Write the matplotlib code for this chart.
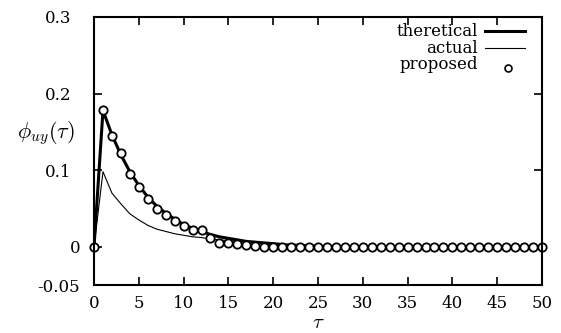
import numpy as np
import matplotlib
matplotlib.use("Agg")
import matplotlib.pyplot as plt
from matplotlib.transforms import ScaledTranslation

# values at integer lags tau = 0..50
tau = np.arange(0, 51)

theoretical = [0.0, 0.178, 0.146, 0.120, 0.098, 0.080, 0.065, 0.053, 0.044, 0.036,
               0.029, 0.024, 0.020, 0.016, 0.013, 0.011, 0.009, 0.007, 0.006, 0.005,
               0.004, 0.003, 0.002, 0.002, 0.001, 0.001] + [0.0] * 25

actual = [0.0, 0.098, 0.070, 0.056, 0.043, 0.035, 0.028, 0.023, 0.020, 0.017,
          0.015, 0.013, 0.012, 0.010, 0.009, 0.008, 0.007, 0.006, 0.005, 0.004,
          0.003, 0.002, 0.002, 0.001, 0.001] + [0.0] * 26

proposed = [0.0, 0.178, 0.144, 0.122, 0.095, 0.078, 0.062, 0.049, 0.041, 0.034,
            0.027, 0.022, 0.022, 0.012, 0.005, 0.005, 0.003, 0.002, 0.001] + [0.0] * 32

xticks = list(range(0, 51, 5))
yticks = [-0.05, 0, 0.1, 0.2, 0.3]
ytick_labels = ["-0.05", "0", "0.1", "0.2", "0.3"]
legend_names = ["theretical", "actual", "proposed"]

plt.rcParams["font.family"] = "DejaVu Serif"
plt.rcParams["mathtext.fontset"] = "cm"

fig = plt.figure(figsize=(5.61, 3.33), dpi=100)
ax = fig.add_axes([0.1676, 0.144, 0.7985, 0.805])

ax.plot(tau, theoretical, color="black", lw=2.2)
ax.plot(tau, actual, color="black", lw=0.8)
ax.plot(tau, proposed, linestyle="none", marker="o", ms=6, mfc="white",
        mec="black", mew=1.3, clip_on=False)

ax.set_xlim(0, 50)
ax.set_ylim(-0.05, 0.3)
ax.set_xticks(xticks)
ax.set_yticks(yticks)
ax.set_yticklabels(ytick_labels)
ax.tick_params(direction="in", top=True, right=True, length=6, width=1.2,
               labelsize=12)
ax.tick_params(axis="x", pad=7)
ax.tick_params(axis="y", pad=10)
for s in ax.spines.values():
    s.set_linewidth(1.5)

# gnuplot put the decimal labels a little further left
for lab in ax.get_yticklabels():
    if lab.get_text() in ("0.1", "0.2", "0.3"):
        lab.set_transform(lab.get_transform() + ScaledTranslation(-9 / 100, 0, fig.dpi_scale_trans))

ax.set_xlabel(r"$\tau$", fontsize=15)
ax.xaxis.set_label_coords(0.5, -0.14)
ax.xaxis.label.set_va("center")
ax.set_ylabel(r"$\phi_{uy}(\tau)$", fontsize=16, rotation=0, va="center", ha="center")
ax.yaxis.set_label_coords(-0.107, 0.567)

# legend drawn gnuplot style: right-aligned names, sample to the right
ys = [0.944, 0.884, 0.822]
for name, y in zip(legend_names, ys):
    ax.text(0.857, y, name, transform=ax.transAxes, ha="right", va="center", fontsize=12)
ax.plot([0.873, 0.962], [ys[0] + 0.004, ys[0] + 0.004], transform=ax.transAxes, color="black", lw=2.2)
ax.plot([0.873, 0.962], [ys[1], ys[1]], transform=ax.transAxes, color="black", lw=0.8)
ax.plot([0.924], [ys[2] - 0.012], transform=ax.transAxes, marker="o", ms=5,
        mfc="white", mec="black", mew=1.2, linestyle="none")

fig.savefig("out.png", dpi=100)
